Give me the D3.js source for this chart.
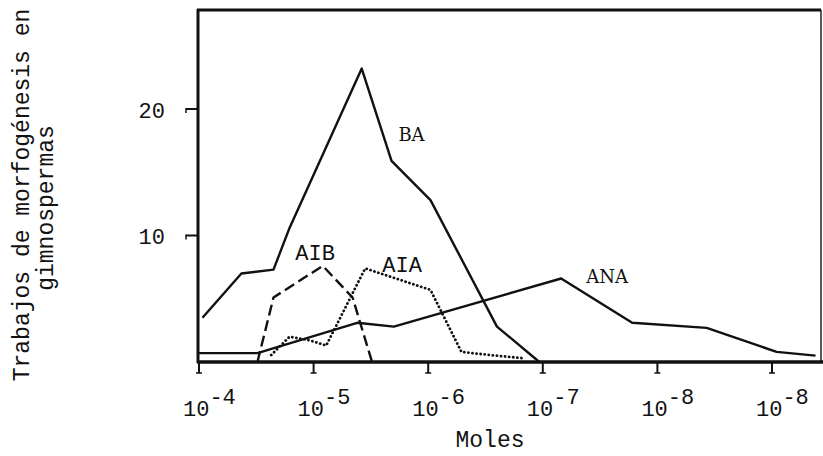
<!DOCTYPE html>
<html>
<head>
<meta charset="utf-8">
<script src="https://cdn.jsdelivr.net/npm/d3@7"></script>
<style>
  body { margin: 0; background: #fff; }
  svg { display: block; }
  text { font-family: "Liberation Mono", "DejaVu Sans Mono", monospace; fill: #111; }
</style>
</head>
<body>
<svg width="823" height="456"></svg>
<script>
// Data: x is the tick position along the concentration axis (0 = 10^-4, 1 = 10^-5 ...)
let tickPos = [0, 1, 2, 3, 4, 5];
let tickExp = ["-4", "-5", "-6", "-7", "-8", "-8"];
let yTicks = [10, 20];

let baX = [0.03, 0.37, 0.65, 0.79, 1.42, 1.68, 2.02, 2.60, 2.97];
let baY = [3.5, 7.0, 7.3, 10.6, 23.2, 15.9, 12.8, 2.8, 0];

let anaX = [0, 0.51, 1.38, 1.70, 3.16, 3.78, 4.43, 5.04, 5.38];
let anaY = [0.7, 0.7, 3.1, 2.8, 6.6, 3.1, 2.7, 0.8, 0.5];

let aibX = [0.51, 0.65, 1.08, 1.34, 1.51];
let aibY = [0, 5.1, 7.6, 5.1, 0];

let aiaX = [0.63, 0.79, 0.97, 1.11, 1.45, 2.02, 2.29, 2.54, 2.83];
let aiaY = [0.55, 2.0, 1.7, 1.3, 7.4, 5.7, 0.8, 0.55, 0.3];

// Set up dimensions
let svg = d3.select("svg");
const mLeft = 199, mRight = 821, mTop = 10, mBottom = 362;

let x = d3.scaleLinear().domain([0, 5]).range([mLeft, 772]);
let y = d3.scaleLinear().domain([0, 20]).range([mBottom, 109]);

/*************************************************************************/
// Frame
svg.append("line").attr("x1", mLeft - 1).attr("x2", mLeft - 1).attr("y1", mTop - 1).attr("y2", mBottom + 1)
  .attr("stroke", "#111").attr("stroke-width", 3);
svg.append("line").attr("x1", mLeft - 2).attr("x2", mRight).attr("y1", mTop).attr("y2", mTop)
  .attr("stroke", "#111").attr("stroke-width", 3);
svg.append("line").attr("x1", mRight).attr("x2", mRight).attr("y1", mTop).attr("y2", mBottom)
  .attr("stroke", "#222").attr("stroke-width", 1.5);
svg.append("line").attr("x1", mLeft - 2).attr("x2", 823).attr("y1", mBottom).attr("y2", mBottom)
  .attr("stroke", "#111").attr("stroke-width", 3.5);

// X ticks with small foot
let xt = svg.append("g").selectAll("g").data(tickPos).enter().append("g");
xt.append("line")
  .attr("x1", d => x(d)).attr("x2", d => x(d))
  .attr("y1", mBottom).attr("y2", mBottom + 11)
  .attr("stroke", "#111").attr("stroke-width", 2);
xt.append("line")
  .attr("x1", d => x(d) - 3).attr("x2", d => x(d) + 3)
  .attr("y1", mBottom + 11).attr("y2", mBottom + 11)
  .attr("stroke", "#111").attr("stroke-width", 1.5);

let xl = svg.append("g").selectAll("text").data(tickPos).enter().append("text")
  .attr("x", d => x(d) - 16)
  .attr("y", 416)
  .style("font-size", "22px");
xl.append("tspan").text("10");
xl.append("tspan").attr("dy", -12).text((d, i) => tickExp[i]);

// Y ticks with small hook
let yt = svg.append("g").selectAll("g").data(yTicks).enter().append("g");
yt.append("line")
  .attr("x1", mLeft - 13).attr("x2", mLeft)
  .attr("y1", d => y(d)).attr("y2", d => y(d))
  .attr("stroke", "#111").attr("stroke-width", 2);
yt.append("line")
  .attr("x1", mLeft - 13).attr("x2", mLeft - 13)
  .attr("y1", d => y(d) - 1).attr("y2", d => y(d) + 4)
  .attr("stroke", "#111").attr("stroke-width", 1.5);
yt.append("text")
  .attr("x", 165).attr("y", d => y(d) + 1)
  .attr("dy", "0.35em")
  .attr("text-anchor", "end")
  .style("font-size", "22px")
  .text(d => d);

// Axis titles
svg.append("text").attr("x", 490).attr("y", 447).attr("text-anchor", "middle")
  .style("font-size", "23px").text("Moles");
svg.append("text").attr("transform", "translate(29,195) rotate(-90)").attr("text-anchor", "middle")
  .style("font-size", "23px").text("Trabajos de morfogénesis en");
svg.append("text").attr("transform", "translate(53,208) rotate(-90)").attr("text-anchor", "middle")
  .style("font-size", "23px").text("gimnospermas");

/*************************************************************************/
// Curves
let line = d3.line().x(d => x(d[0])).y(d => y(d[1]));
let series = [
  { xs: baX, ys: baY, dash: null, cap: "butt" },
  { xs: anaX, ys: anaY, dash: null, cap: "butt" },
  { xs: aibX, ys: aibY, dash: "11 5", cap: "butt" },
  { xs: aiaX, ys: aiaY, dash: "0.1 4", cap: "round" }
];
svg.append("g").selectAll("path").data(series).enter().append("path")
  .attr("d", s => line(s.xs.map((v, i) => [v, s.ys[i]])))
  .attr("fill", "none")
  .attr("stroke", "#111")
  .attr("stroke-width", s => s.dash === "0.1 4" ? 2.8 : 2.4)
  .attr("stroke-linejoin", "round")
  .attr("stroke-linecap", s => s.cap)
  .attr("stroke-dasharray", s => s.dash);

// Series labels
let labels = [
  { t: "BA", lx: 1.74, ly: 17.5, serif: true },
  { t: "ANA", lx: 3.38, ly: 6.25, serif: true },
  { t: "AIB", lx: 0.84, ly: 8.1, serif: false },
  { t: "AIA", lx: 1.60, ly: 7.1, serif: false }
];
svg.append("g").selectAll("text").data(labels).enter().append("text")
  .attr("x", d => x(d.lx)).attr("y", d => y(d.ly))
  .style("font-family", d => d.serif ? "'DejaVu Serif', serif" : null)
  .style("font-size", d => d.serif ? "18px" : "22px")
  .text(d => d.t);
</script>
</body>
</html>
